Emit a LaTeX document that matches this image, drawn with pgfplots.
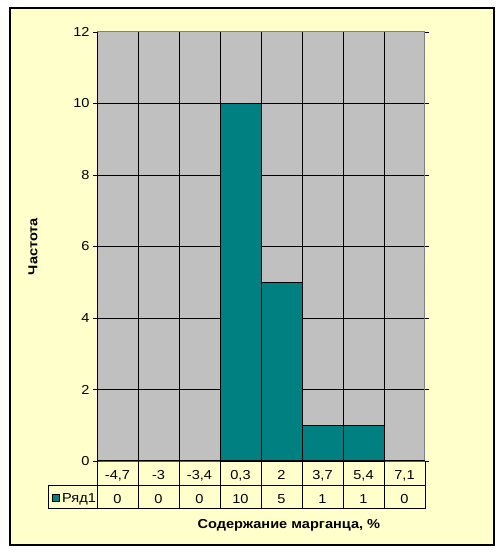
\documentclass[border=0pt]{standalone}
\usepackage{fontspec}
\setmainfont{Liberation Sans}[FakeStretch=1.12]
\usepackage{pgfplots}
\pgfplotsset{compat=1.18}
\usepackage{pgfplotstable}
\definecolor{bg}{HTML}{FFFFCC}
\definecolor{plotgray}{HTML}{C0C0C0}
\definecolor{barteal}{HTML}{008080}
\newcommand\lf{\fontsize{13}{15.5}\selectfont}
\pgfplotstableread{
x count
0.5 0
1.5 0
2.5 0
3.5 10
4.5 5
5.5 1
6.5 1
7.5 0
}\data
\begin{document}
\begin{tikzpicture}[x=1pt,y=1pt]
\fill[white] (0,0) rectangle (503,553);
\useasboundingbox (0,0) rectangle (503,553);
\draw[black, line width=1.5pt, fill=bg] (10,8) rectangle (494,545);
\begin{axis}[
  at={(97pt,92pt)}, anchor=south west,
  scale only axis, width=328pt, height=429pt,
  xmin=0, xmax=8, ymin=0, ymax=12,
  clip=false,
  axis background/.style={fill=plotgray},
  axis line style={draw=gray, line width=1pt},
  ytick={0,2,...,12},
  minor ytick={2,4,...,10},
  xtick={0.5,1.5,...,7.5},
  xticklabels={{-4,7},{-3},{-3,4},{0,3},{2},{3,7},{5,4},{7,1}},
  minor xtick={1,2,...,7},
  xminorgrids, yminorgrids,
  minor grid style={black, line width=0.9pt},
  xtick style={draw=none},
  minor tick length=0pt,
  ytick style={black, line width=0.8pt},
  major tick length=4pt,
  tick align=outside,
  /pgf/number format/assume math mode=true,
  yticklabel style={font=\lf},
  xticklabel style={font=\lf, anchor=base, yshift=-14.5pt},
  xlabel={Содержание марганца, \%},
  ylabel={Частота},
  xlabel style={at={(axis description cs:0.585,-0.149)}, anchor=center, font=\lf\bfseries},
  ylabel style={at={(axis description cs:-0.195,0.5)}, anchor=center, font=\lf\bfseries},
]
\addplot[ybar, bar width=1, fill=barteal, draw=black, line width=0.9pt] table[x=x, y=count]{\data};
\addplot[draw=none, mark=none, nodes near coords, point meta=explicit symbolic,
  every node near coord/.style={anchor=base, yshift=-42.5pt, font=\lf}]
  table[x=x, y expr=0, meta=count]{\data};
\draw[black, line width=1pt] (rel axis cs:0,0) -- (rel axis cs:0,1);
\end{axis}
\begin{scope}[black, line width=1pt]
\draw (97,92) -- (425,92);
\draw (48,67) -- (425,67);
\draw (48,44) -- (425,44);
\draw (48,67) -- (48,44);
\foreach \k in {0,...,8} { \draw (97+41*\k,92) -- (97+41*\k,44); }
\end{scope}
\draw[black, line width=0.6pt, fill=barteal] (52,51.5) rectangle (59,58.5);
\node[anchor=base west, font=\lf, inner sep=0pt] at (62,50.5) {Ряд1};
\end{tikzpicture}
\end{document}
